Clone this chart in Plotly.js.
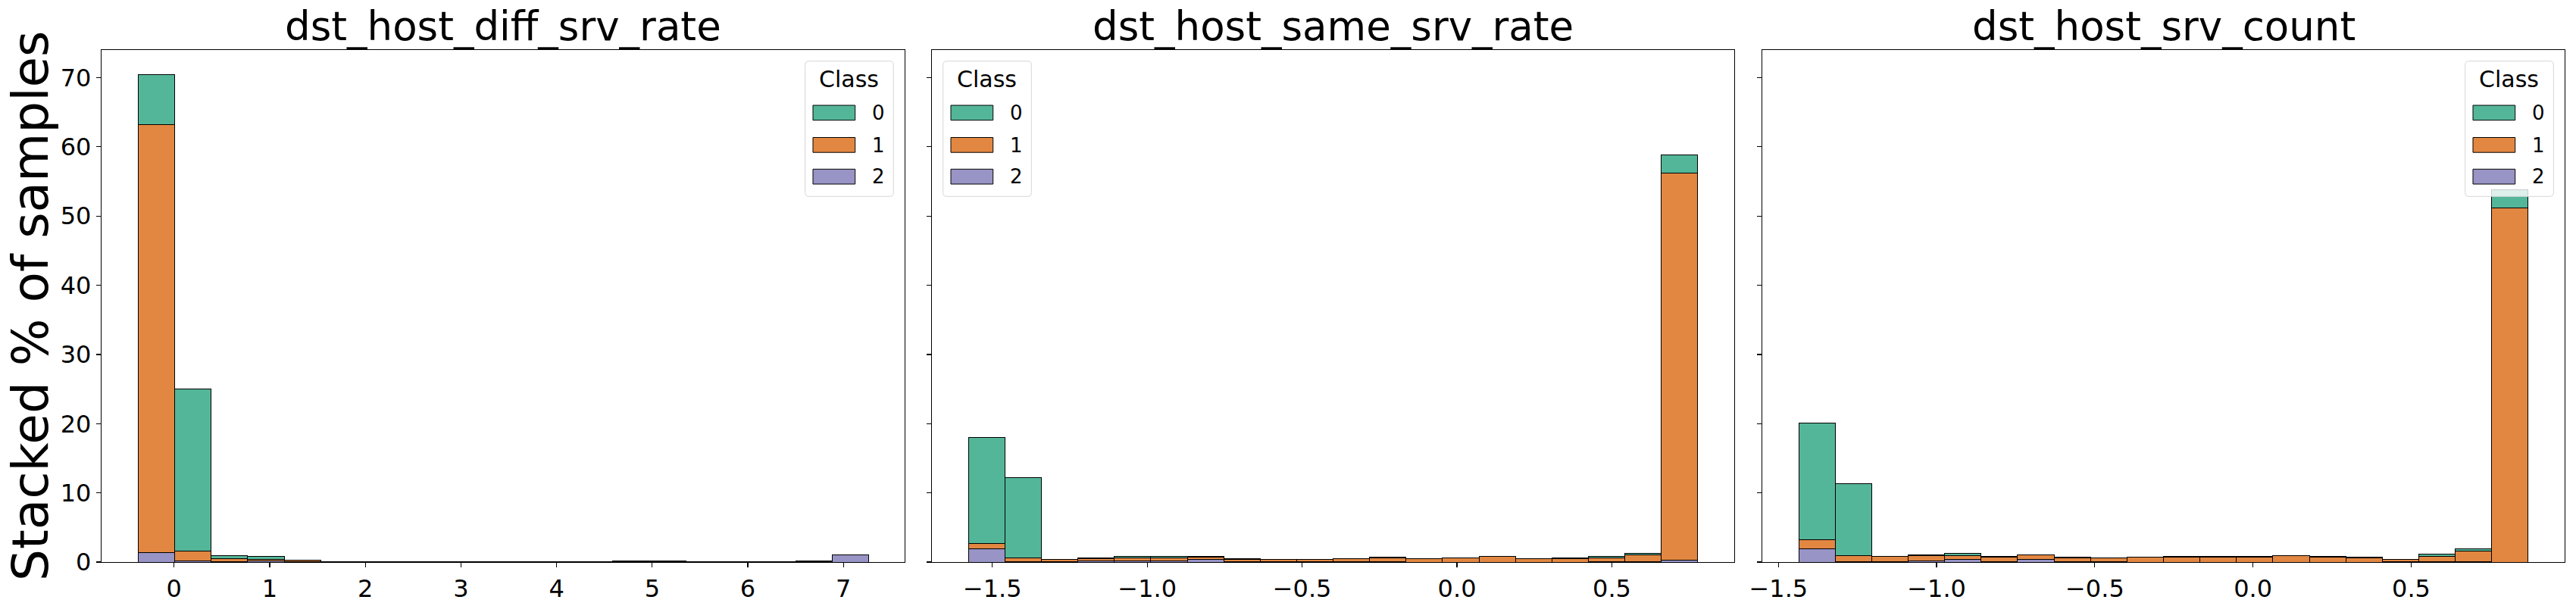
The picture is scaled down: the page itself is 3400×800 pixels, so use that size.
<!DOCTYPE html>
<html><head><meta charset="utf-8">
<script src="https://cdn.plot.ly/plotly-3.0.1.min.js"></script>
<style>html,body{margin:0;padding:0;background:#fff}</style>
</head><body><div id="chart" style="width:3400px;height:800px"></div>
<script>
// ---- data ----
const classNames = ['0', '1', '2'];
const panelTitles = ['dst_host_diff_srv_rate', 'dst_host_same_srv_rate', 'dst_host_srv_count'];
const yAxisTitle = 'Stacked % of samples';

// histogram bins (20 per feature): first edge and bin width
const diffBinStart = -0.377, diffBinWidth = 0.382;
const sameBinStart = -1.577, sameBinWidth = 0.1177;
const countBinStart = -1.436, countBinWidth = 0.1153;

// % of samples per bin, per class
const diffClass0 = [7.25, 23.4, 0.41, 0.44, 0.0, 0.02, 0.02, 0.02, 0.02, 0.02, 0.02, 0.02, 0.02, 0.05, 0.05, 0.02, 0.02, 0.02, 0.0, 0.02];
const diffClass1 = [61.82, 1.42, 0.39, 0.18, 0.2, 0.03, 0.03, 0.03, 0.03, 0.03, 0.03, 0.03, 0.03, 0.1, 0.1, 0.03, 0.03, 0.03, 0.08, 0.0];
const diffClass2 = [1.38, 0.18, 0.08, 0.15, 0.02, 0.01, 0.01, 0.01, 0.01, 0.01, 0.01, 0.01, 0.01, 0.03, 0.03, 0.01, 0.01, 0.01, 0.1, 1.0];

const sameClass0 = [15.42, 11.66, 0.0, 0.08, 0.18, 0.18, 0.07, 0.04, 0.02, 0.02, 0.02, 0.02, 0.02, 0.02, 0.02, 0.02, 0.02, 0.2, 0.3, 2.7];
const sameClass1 = [0.73, 0.53, 0.41, 0.38, 0.44, 0.44, 0.3, 0.38, 0.36, 0.36, 0.43, 0.62, 0.45, 0.6, 0.82, 0.45, 0.53, 0.56, 0.97, 55.9];
const sameClass2 = [1.9, 0.05, 0.02, 0.12, 0.18, 0.18, 0.4, 0.05, 0.02, 0.02, 0.02, 0.02, 0.0, 0.0, 0.0, 0.0, 0.0, 0.02, 0.02, 0.29];

const countClass0 = [16.8, 10.4, 0.0, 0.02, 0.29, 0.18, 0.06, 0.04, 0.0, 0.02, 0.02, 0.02, 0.02, 0.02, 0.02, 0.02, 0.0, 0.26, 0.3, 2.6];
const countClass1 = [1.35, 0.96, 0.85, 0.8, 0.59, 0.64, 0.62, 0.6, 0.53, 0.71, 0.76, 0.76, 0.76, 0.91, 0.76, 0.65, 0.41, 0.85, 1.58, 51.2];
const countClass2 = [1.92, 0.02, 0.02, 0.18, 0.36, 0.05, 0.4, 0.05, 0.02, 0.0, 0.0, 0.0, 0.0, 0.0, 0.0, 0.0, 0.02, 0.02, 0.02, 0.0];

const xTicks1 = [0, 1, 2, 3, 4, 5, 6, 7];
const xTicks23 = [-1.5, -1.0, -0.5, 0.0, 0.5];
const yTicks = [0, 10, 20, 30, 40, 50, 60, 70];

// ---- style ----
const colors = ['#54b699', '#e28741', '#9894c6']; // Dark2 at alpha 0.75 on white
const FONT = 'DejaVu Sans, Liberation Sans, sans-serif';
const W = 3400, H = 800;
const axPx = [[134, 1194], [1230, 2289], [2326, 3385]];
const axTop = 66, axBottom = 742;

const panels = [
  {start: diffBinStart, width: diffBinWidth, vals: [diffClass0, diffClass1, diffClass2], range: [-0.759, 7.64], ticks: xTicks1, fmt: 'd'},
  {start: sameBinStart, width: sameBinWidth, vals: [sameClass0, sameClass1, sameClass2], range: [-1.695, 0.895], ticks: xTicks23, fmt: '.1f'},
  {start: countBinStart, width: countBinWidth, vals: [countClass0, countClass1, countClass2], range: [-1.551, 0.985], ticks: xTicks23, fmt: '.1f'}
];

const traces = [];
panels.forEach((p, i) => {
  const centers = p.vals[0].map((_, k) => p.start + p.width * (k + 0.5));
  const xa = i === 0 ? 'x' : 'x' + (i + 1);
  const ya = i === 0 ? 'y' : 'y' + (i + 1);
  [2, 1, 0].forEach(c => {
    traces.push({
      type: 'bar', x: centers, y: p.vals[c], width: p.width,
      xaxis: xa, yaxis: ya, name: classNames[c], showlegend: false,
      marker: {color: colors[c], line: {color: '#000000', width: 1}},
      hoverinfo: 'skip'
    });
  });
});

const layout = {
  width: W, height: H, margin: {l: 0, r: 0, t: 0, b: 0},
  paper_bgcolor: '#ffffff', plot_bgcolor: '#ffffff',
  barmode: 'stack', bargap: 0, showlegend: false,
  font: {family: FONT, color: '#000000'},
  shapes: [], annotations: []
};

const px = v => v / W, py = v => 1 - v / H;
function roundedRectPath(l, t, r, b, rad) {
  const X = v => px(v).toFixed(6), Y = v => py(v).toFixed(6);
  return 'M' + X(l + rad) + ',' + Y(t) + ' L' + X(r - rad) + ',' + Y(t) +
    ' Q' + X(r) + ',' + Y(t) + ' ' + X(r) + ',' + Y(t + rad) +
    ' L' + X(r) + ',' + Y(b - rad) +
    ' Q' + X(r) + ',' + Y(b) + ' ' + X(r - rad) + ',' + Y(b) +
    ' L' + X(l + rad) + ',' + Y(b) +
    ' Q' + X(l) + ',' + Y(b) + ' ' + X(l) + ',' + Y(b - rad) +
    ' L' + X(l) + ',' + Y(t + rad) +
    ' Q' + X(l) + ',' + Y(t) + ' ' + X(l + rad) + ',' + Y(t) + ' Z';
}

panels.forEach((p, i) => {
  const sfx = i === 0 ? '' : String(i + 1);
  layout['xaxis' + sfx] = {
    domain: [axPx[i][0] / W, axPx[i][1] / W], anchor: 'y' + sfx,
    range: p.range, tickvals: p.ticks, tickformat: p.fmt,
    ticks: 'outside', ticklen: 6, tickwidth: 1.2, tickcolor: '#000',
    showline: true, linecolor: '#000', linewidth: 1.2, mirror: true,
    showgrid: false, zeroline: false,
    tickfont: {family: FONT, size: 32, color: '#000'}
  };
  layout['yaxis' + sfx] = {
    domain: [1 - axBottom / H, 1 - axTop / H], anchor: 'x' + sfx,
    range: [0, 74.0], tickvals: yTicks, showticklabels: i === 0,
    ticks: 'outside', ticklen: 6, tickwidth: 1.2, tickcolor: '#000',
    showline: true, linecolor: '#000', linewidth: 1.2, mirror: true,
    showgrid: false, zeroline: false,
    tickfont: {family: FONT, size: 32, color: '#000'}
  };
  // panel title
  layout.annotations.push({
    xref: 'paper', yref: 'paper', x: (axPx[i][0] + axPx[i][1]) / 2 / W, y: 1 - 35 / H,
    xanchor: 'center', yanchor: 'middle', showarrow: false,
    text: panelTitles[i], font: {family: FONT, size: 53, color: '#000'}
  });
  // legend
  const boxW = 116.6, boxTop = 80.7, boxBot = 259.3;
  const left = i === 1 ? axPx[i][0] + 14.7 : axPx[i][1] - 14.7 - boxW;
  layout.shapes.push({
    type: 'path', xref: 'paper', yref: 'paper', layer: 'above',
    path: roundedRectPath(left, boxTop, left + boxW, boxBot, 5),
    fillcolor: 'rgba(255,255,255,0.8)', line: {color: '#d6d6d6', width: 1}
  });
  layout.annotations.push({
    xref: 'paper', yref: 'paper', x: px(left + 58), y: py(104.5),
    xanchor: 'center', yanchor: 'middle', showarrow: false,
    text: 'Class', font: {family: FONT, size: 30, color: '#000'}
  });
  const rowTops = [139, 181.5, 223.3];
  [0, 1, 2].forEach(c => {
    layout.shapes.push({
      type: 'rect', xref: 'paper', yref: 'paper', layer: 'above',
      x0: px(left + 10.3), x1: px(left + 66), y0: py(rowTops[c] + 19.7), y1: py(rowTops[c]),
      fillcolor: colors[c], line: {color: '#000', width: 1}
    });
    layout.annotations.push({
      xref: 'paper', yref: 'paper', x: px(left + 96.3), y: py(rowTops[c] + 10),
      xanchor: 'center', yanchor: 'middle', showarrow: false,
      text: classNames[c], font: {family: FONT, size: 26, color: '#000'}
    });
  });
});

// y-axis title
layout.annotations.push({
  xref: 'paper', yref: 'paper', x: 40 / W, y: 1 - 404 / H,
  xanchor: 'center', yanchor: 'middle', showarrow: false, textangle: -90,
  text: yAxisTitle, font: {family: FONT, size: 66, color: '#000'}
});

Plotly.newPlot('chart', traces, layout, {staticPlot: true, displayModeBar: false});
</script>
</body></html>
